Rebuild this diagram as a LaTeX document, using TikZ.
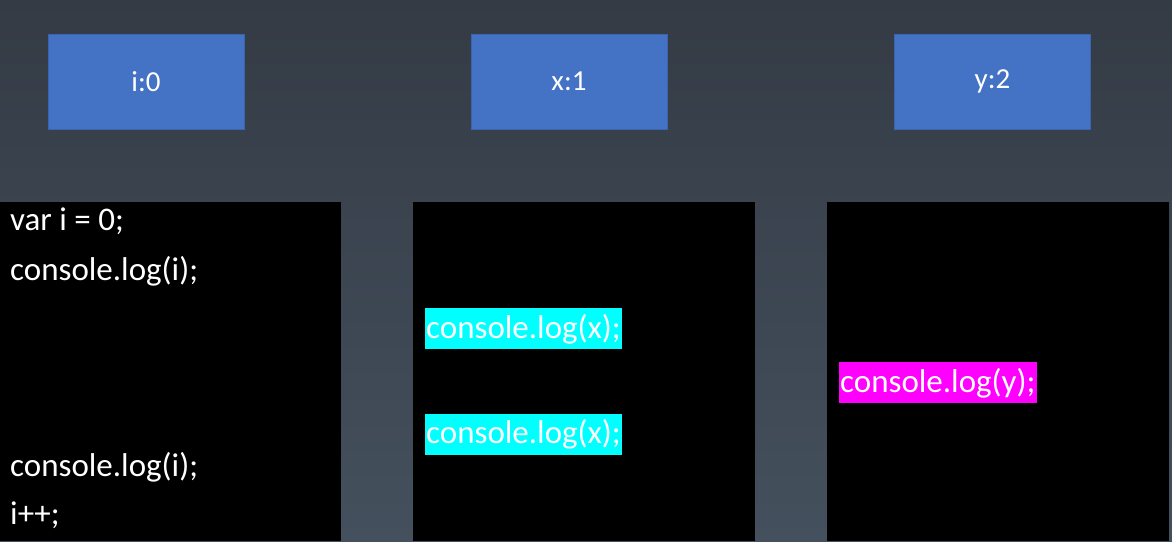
\documentclass[tikz,border=0pt]{standalone}
\usepackage{fontspec}
\setmainfont{Carlito}
\definecolor{bgtop}{HTML}{343B45}
\definecolor{bgbot}{HTML}{44505D}
\definecolor{boxblue}{HTML}{4472C4}
\definecolor{boxedge}{HTML}{3A64B0}
\definecolor{hlcyan}{HTML}{00FFFF}
\definecolor{hlmag}{HTML}{FF00FF}
\tikzset{
  varbox/.style={fill=boxblue, draw=boxedge, line width=0.8pt, minimum width=196pt, minimum height=95pt,
    inner sep=0pt, text=white, font=\fontsize{29}{34}\selectfont},
  panel/.style={fill=black},
  code/.style={anchor=base west, text=white, inner sep=0pt, font=\fontsize{33}{40}\selectfont},
  hl/.style={anchor=base west, text=white, inner xsep=1pt, inner ysep=2pt, text height=28pt, text depth=9pt,
    font=\fontsize{33}{40}\selectfont},
}
\begin{document}
\begin{tikzpicture}[x=1pt, y=-1pt]
\useasboundingbox (0,0) rectangle (1172,541);
\shade[top color=bgtop, bottom color=bgbot] (0,0) rectangle (1172,541);
% variable boxes
\node[varbox] (bi) at (146,81.5) {i:0};
\node[varbox] (bx) at (569,81.5) {x:1};
\node[varbox] (by) at (992.5,81.5) {y:2};
% panels
\fill[panel] (0,202) rectangle (341,541);
\fill[panel] (413,202) rectangle (755,541);
\fill[panel] (827,202) rectangle (1169,541);
% panel 1 code
\node[code] (c1) at (10,230) {var i = 0;};
\node[code] (c2) at (10,280) {console.log(i);};
\node[code] (c3) at (10,476) {console.log(i);};
\node[code] (c4) at (10,524) {i++;};
% panel 2
\node[hl, fill=hlcyan] (x1) at (425,338) {console.log(x);};
\node[hl, fill=hlcyan] (x2) at (425,443.5) {console.log(x);};
% panel 3
\node[hl, fill=hlmag] (y1) at (839,392) {console.log(y);};
\end{tikzpicture}
\end{document}
